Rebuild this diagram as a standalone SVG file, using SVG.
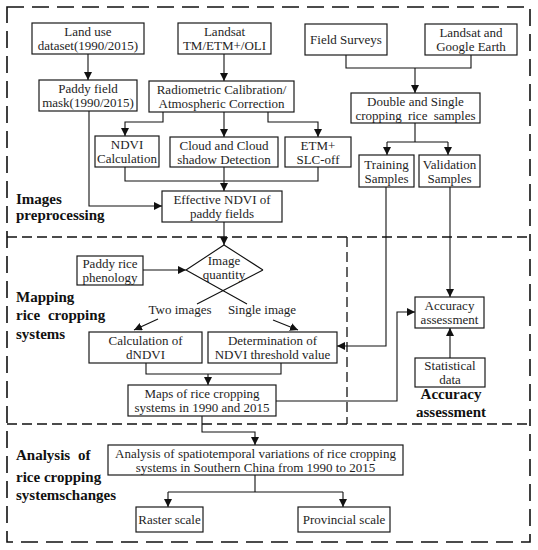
<svg xmlns="http://www.w3.org/2000/svg" width="538" height="550" viewBox="0 0 538 550">
<defs>
<marker id="ah" markerUnits="userSpaceOnUse" markerWidth="8" markerHeight="8" refX="8" refY="4" orient="auto">
<path d="M0,0 L8,4 L0,8 z" fill="#111"/>
</marker>
<style>
.box{fill:#fff;stroke:#1a1a1a;stroke-width:1.2}
.t{font-family:"Liberation Serif","Times New Roman",serif;font-size:13px;fill:#1e1e1e;text-anchor:middle}
.lb{font-family:"Liberation Serif","Times New Roman",serif;font-size:15px;font-weight:bold;fill:#111}
.c{fill:none;stroke:#111;stroke-width:1.1}
.a{marker-end:url(#ah)}
.d1{fill:none;stroke:#111;stroke-width:1.6;stroke-dasharray:17 8}
.d2{fill:none;stroke:#111;stroke-width:1.3;stroke-dasharray:10 5}
</style>
</defs>
<rect width="538" height="550" fill="#fff"/>
<g id="sections">
<rect class="d1" x="7" y="7" width="523" height="535"/>
<line class="d2" x1="7" y1="237" x2="530" y2="237"/>
<line class="d2" x1="7" y1="424" x2="530" y2="424"/>
<line class="d2" x1="347" y1="237" x2="347" y2="424"/>
<text class="lb" x="16" y="204">Images</text>
<text class="lb" x="16" y="220">preprocessing</text>
<text class="lb" x="16" y="302">Mapping</text>
<text class="lb" x="16" y="320" word-spacing="4">rice cropping</text>
<text class="lb" x="16" y="339">systems</text>
<text class="lb" x="16" y="460" word-spacing="4">Analysis of</text>
<text class="lb" x="16" y="482">rice cropping</text>
<text class="lb" x="16" y="500">systemschanges</text>
<text class="lb" x="451" y="399" text-anchor="middle">Accuracy</text>
<text class="lb" x="451" y="417" text-anchor="middle">assessment</text>
</g>
<g id="connectors">
<path class="c a" d="M88,54 V80"/>
<path class="c a" d="M224,54 V81"/>
<path class="c" d="M346,55 V68 H471 V55"/>
<path class="c a" d="M415,68 V93"/>
<path class="c a" d="M163,112 V122 H125 V136"/>
<path class="c a" d="M224,112 V137"/>
<path class="c a" d="M268,112 V122 H318 V137"/>
<path class="c" d="M125,167 V181 H318 V167"/>
<path class="c a" d="M224,167 V191"/>
<path class="c a" d="M89,111 V206 H162"/>
<path class="c" d="M415,123 V142 M387,142 H448"/>
<path class="c a" d="M387,142 V155"/>
<path class="c a" d="M448,142 V155"/>
<path class="c a" d="M224,222 V245"/>
<path class="c a" d="M143,270 H186"/>
<path class="c a" d="M158,319 L134,330"/>
<path class="c a" d="M273,320 L298,330"/>
<path class="c a" d="M386,187 V346 H337"/>
<path class="c a" d="M450,187 V297"/>
<path class="c a" d="M450,358 V328"/>
<path class="c" d="M146,363 V374 H281 V363"/>
<path class="c a" d="M208,374 V385"/>
<path class="c a" d="M276,401 H397 V312 H415"/>
<path class="c a" d="M202,416 V432 H255 V445"/>
<path class="c" d="M255,475 V492 M168,492 H343"/>
<path class="c a" d="M168,492 V507"/>
<path class="c a" d="M343,492 V507"/>
</g>
<g id="landuse"><rect class="box" x="32" y="23" width="112" height="31"/><text class="t" x="88" y="36">Land use</text><text class="t" x="88" y="50">dataset(1990/2015)</text></g>
<g id="landsat"><rect class="box" x="178" y="23" width="93" height="31"/><text class="t" x="224.5" y="36">Landsat</text><text class="t" x="224.5" y="50">TM/ETM+/OLI</text></g>
<g id="field"><rect class="box" x="305" y="24" width="82" height="31"/><text class="t" x="346" y="44">Field Surveys</text></g>
<g id="google"><rect class="box" x="425" y="24" width="92" height="31"/><text class="t" x="471" y="37">Landsat and</text><text class="t" x="471" y="51">Google Earth</text></g>
<g id="mask"><rect class="box" x="39" y="80" width="98" height="31"/><text class="t" x="88" y="93">Paddy field</text><text class="t" x="88" y="107">mask(1990/2015)</text></g>
<g id="radio"><rect class="box" x="149" y="81" width="145" height="31"/><text class="t" x="221.5" y="94">Radiometric Calibration/</text><text class="t" x="221.5" y="108">Atmospheric Correction</text></g>
<g id="double"><rect class="box" x="351" y="93" width="129" height="30"/><text class="t" x="415.5" y="105.5">Double and Single</text><text class="t" x="415.5" y="119.5" word-spacing="3">cropping rice samples</text></g>
<g id="ndvi"><rect class="box" x="95" y="136" width="64" height="31"/><text class="t" x="127" y="149">NDVI</text><text class="t" x="127" y="163">Calculation</text></g>
<g id="cloud"><rect class="box" x="170" y="137" width="108" height="30"/><text class="t" x="224" y="149.5">Cloud and Cloud</text><text class="t" x="224" y="163.5">shadow Detection</text></g>
<g id="etm"><rect class="box" x="285" y="137" width="66" height="30"/><text class="t" x="318" y="149.5">ETM+</text><text class="t" x="318" y="163.5">SLC-off</text></g>
<g id="training"><rect class="box" x="359" y="155" width="55" height="32"/><text class="t" x="386.5" y="168.5">Training</text><text class="t" x="386.5" y="182.5">Samples</text></g>
<g id="validation"><rect class="box" x="419" y="155" width="61" height="32"/><text class="t" x="449.5" y="168.5">Validation</text><text class="t" x="449.5" y="182.5">Samples</text></g>
<g id="effective"><rect class="box" x="162" y="191" width="120" height="31"/><text class="t" x="222" y="204">Effective NDVI of</text><text class="t" x="222" y="218">paddy fields</text></g>
<g id="phenology"><rect class="box" x="77" y="256" width="66" height="29"/><text class="t" x="110" y="268">Paddy rice</text><text class="t" x="110" y="282">phenology</text></g>
<g id="quantity"><path class="c" d="M186,270 L224,245 L263,270 M186,270 L247,304 M263,270 L197,304"/><text class="t" x="224" y="265">Image</text><text class="t" x="224" y="279">quantity</text></g>
<g id="branchlabels"><text class="t" x="180" y="314">Two images</text><text class="t" x="262" y="314">Single image</text></g>
<g id="calc"><rect class="box" x="89" y="332" width="113" height="31"/><text class="t" x="145.5" y="345">Calculation of</text><text class="t" x="145.5" y="359">dNDVI</text></g>
<g id="determ"><rect class="box" x="208" y="332" width="129" height="31"/><text class="t" x="272.5" y="345">Determination of</text><text class="t" x="272.5" y="359">NDVI threshold value</text></g>
<g id="accuracy"><rect class="box" x="415" y="297" width="69" height="31"/><text class="t" x="449.5" y="310">Accuracy</text><text class="t" x="449.5" y="324">assessment</text></g>
<g id="statistical"><rect class="box" x="415" y="358" width="70" height="29"/><text class="t" x="450" y="370">Statistical</text><text class="t" x="450" y="384">data</text></g>
<g id="maps"><rect class="box" x="128" y="385" width="148" height="31"/><text class="t" x="202" y="398">Maps of rice cropping</text><text class="t" x="202" y="412">systems in 1990 and 2015</text></g>
<g id="analysis"><rect class="box" x="108" y="445" width="295" height="30"/><text class="t" x="255.5" y="457.5">Analysis of spatiotemporal variations of rice cropping</text><text class="t" x="255.5" y="471.5">systems in Southern China from 1990 to 2015</text></g>
<g id="raster"><rect class="box" x="136" y="507" width="67" height="25"/><text class="t" x="169.5" y="524">Raster scale</text></g>
<g id="provincial"><rect class="box" x="298" y="507" width="92" height="25"/><text class="t" x="344" y="524">Provincial scale</text></g>
</svg>
